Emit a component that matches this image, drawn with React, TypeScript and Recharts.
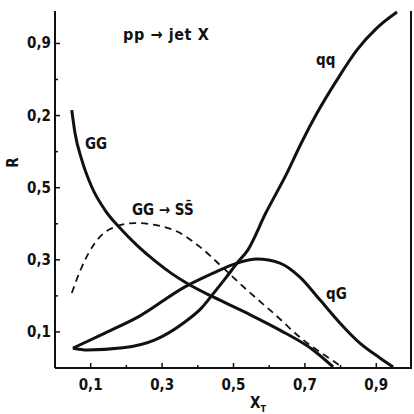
import { LineChart, Line, XAxis, YAxis } from 'recharts'

// curves, [xT, R]
const ggCurve = [
  [0.047, 0.715], [0.056, 0.652], [0.075, 0.577], [0.103, 0.502], [0.14, 0.438],
  [0.182, 0.388], [0.232, 0.338], [0.28, 0.297], [0.328, 0.261], [0.373, 0.233],
  [0.443, 0.197], [0.538, 0.152], [0.63, 0.105], [0.723, 0.05], [0.779, 0.003],
]
const ggToSSCurve = [
  [0.047, 0.208], [0.075, 0.28], [0.112, 0.347], [0.16, 0.388], [0.224, 0.402],
  [0.28, 0.397], [0.345, 0.377], [0.406, 0.336], [0.462, 0.286], [0.538, 0.216],
  [0.611, 0.153], [0.695, 0.078], [0.762, 0.031], [0.804, 0.003],
]
const qgCurve = [
  [0.05, 0.055], [0.14, 0.097], [0.232, 0.141], [0.364, 0.225], [0.443, 0.263],
  [0.51, 0.291], [0.566, 0.302], [0.63, 0.291], [0.686, 0.252], [0.742, 0.189],
  [0.798, 0.125], [0.854, 0.069], [0.91, 0.028], [0.947, 0.003],
]
const qqCurve = [
  [0.05, 0.055], [0.09, 0.05], [0.19, 0.056], [0.28, 0.078], [0.36, 0.125],
  [0.41, 0.166], [0.44, 0.202], [0.48, 0.252], [0.51, 0.291], [0.54, 0.327],
  [0.59, 0.429], [0.65, 0.541], [0.69, 0.624], [0.734, 0.707], [0.79, 0.799],
  [0.846, 0.882], [0.902, 0.943], [0.958, 0.987],
]

const xTickValues = [0.1, 0.2, 0.3, 0.4, 0.5, 0.6, 0.7, 0.8, 0.9]
const xTickLabels = ['0,1', '', '0,3', '', '0,5', '', '0,7', '', '0,9']
const yTickValues = [0.1, 0.2, 0.3, 0.4, 0.5, 0.6, 0.7, 0.8, 0.9]
const yTickLabels = ['0,1', '', '0,3', '', '0,5', '', '0,2', '', '0,9']

const toRows = (pts: number[][]) => pts.map(([x, r]) => ({ x, r }))

const font = '"DejaVu Sans Condensed", "DejaVu Sans", sans-serif'
const ink = '#111'

function XTick({ x, y, index }: any) {
  const label = xTickLabels[index]
  const len = label ? 5 : 3
  return (
    <g>
      <line x1={x} x2={x} y1={y} y2={y - len} stroke={ink} strokeWidth={1.5} />
      {label && (
        <text x={x} y={y + 22} textAnchor="middle" fontSize={15} fontWeight="bold" fontFamily={font} fill={ink}>
          {label}
        </text>
      )}
    </g>
  )
}

function YTick({ x, y, index }: any) {
  const label = yTickLabels[index]
  const len = label ? 5 : 3
  return (
    <g>
      <line x1={x} x2={x + len} y1={y} y2={y} stroke={ink} strokeWidth={1.5} />
      {label && (
        <text x={x - 4} y={y + 5} textAnchor="end" fontSize={15} fontWeight="bold" fontFamily={font} fill={ink}>
          {label}
        </text>
      )}
    </g>
  )
}

const tag = (left: number, top: number, size = 15): React.CSSProperties => ({
  position: 'absolute', left, top, fontSize: size, fontWeight: 'bold',
  fontFamily: font, color: ink, whiteSpace: 'nowrap', lineHeight: 1,
})

export default function App() {
  const axisLine = { stroke: ink, strokeWidth: 2 }
  return (
    <div style={{ position: 'absolute', left: 0, top: 0, width: 414, height: 414, background: '#fff' }}>
      <LineChart width={414} height={414} margin={{ top: 11, right: 2, bottom: 0, left: 0 }}>
        <XAxis dataKey="x" type="number" domain={[0, 1]} ticks={xTickValues} interval={0}
          tickLine={false} tickSize={0} tickMargin={0} tick={<XTick />} axisLine={axisLine} height={46} />
        <XAxis xAxisId="top" orientation="top" type="number" domain={[0, 1]} tick={false}
          tickLine={false} axisLine={axisLine} height={0} />
        <YAxis type="number" domain={[0, 0.99]} ticks={yTickValues} interval={0}
          tickLine={false} tickSize={0} tickMargin={0} tick={<YTick />} axisLine={axisLine} width={55} />
        <Line data={toRows(ggCurve)} dataKey="r" type="monotone" stroke={ink} strokeWidth={3} dot={false} isAnimationActive={false} />
        <Line data={toRows(ggToSSCurve)} dataKey="r" type="monotone" stroke={ink} strokeWidth={1.8} strokeDasharray="7 5" dot={false} isAnimationActive={false} />
        <Line data={toRows(qgCurve)} dataKey="r" type="monotone" stroke={ink} strokeWidth={3} dot={false} isAnimationActive={false} />
        <Line data={toRows(qqCurve)} dataKey="r" type="monotone" stroke={ink} strokeWidth={3} dot={false} isAnimationActive={false} />
      </LineChart>
      {/* right edge of the frame */}
      <div style={{ position: 'absolute', left: 410, top: 11, width: 0, height: 357, borderLeft: `2px solid ${ink}` }} />
      <div style={{ ...tag(123, 27, 16), letterSpacing: 0.6 }}>pp → jet X</div>
      <div style={tag(316, 53)}>qq</div>
      <div style={tag(85, 137)}>GG</div>
      <div style={tag(132, 203)}>GG → SS̄</div>
      <div style={tag(326, 287)}>qG</div>
      <div style={{ ...tag(8, 155, 15), transform: 'rotate(-90deg)' }}>R</div>
      <div style={tag(250, 396, 15)}>X<sub style={{ fontSize: 9 }}>T</sub></div>
    </div>
  )
}
